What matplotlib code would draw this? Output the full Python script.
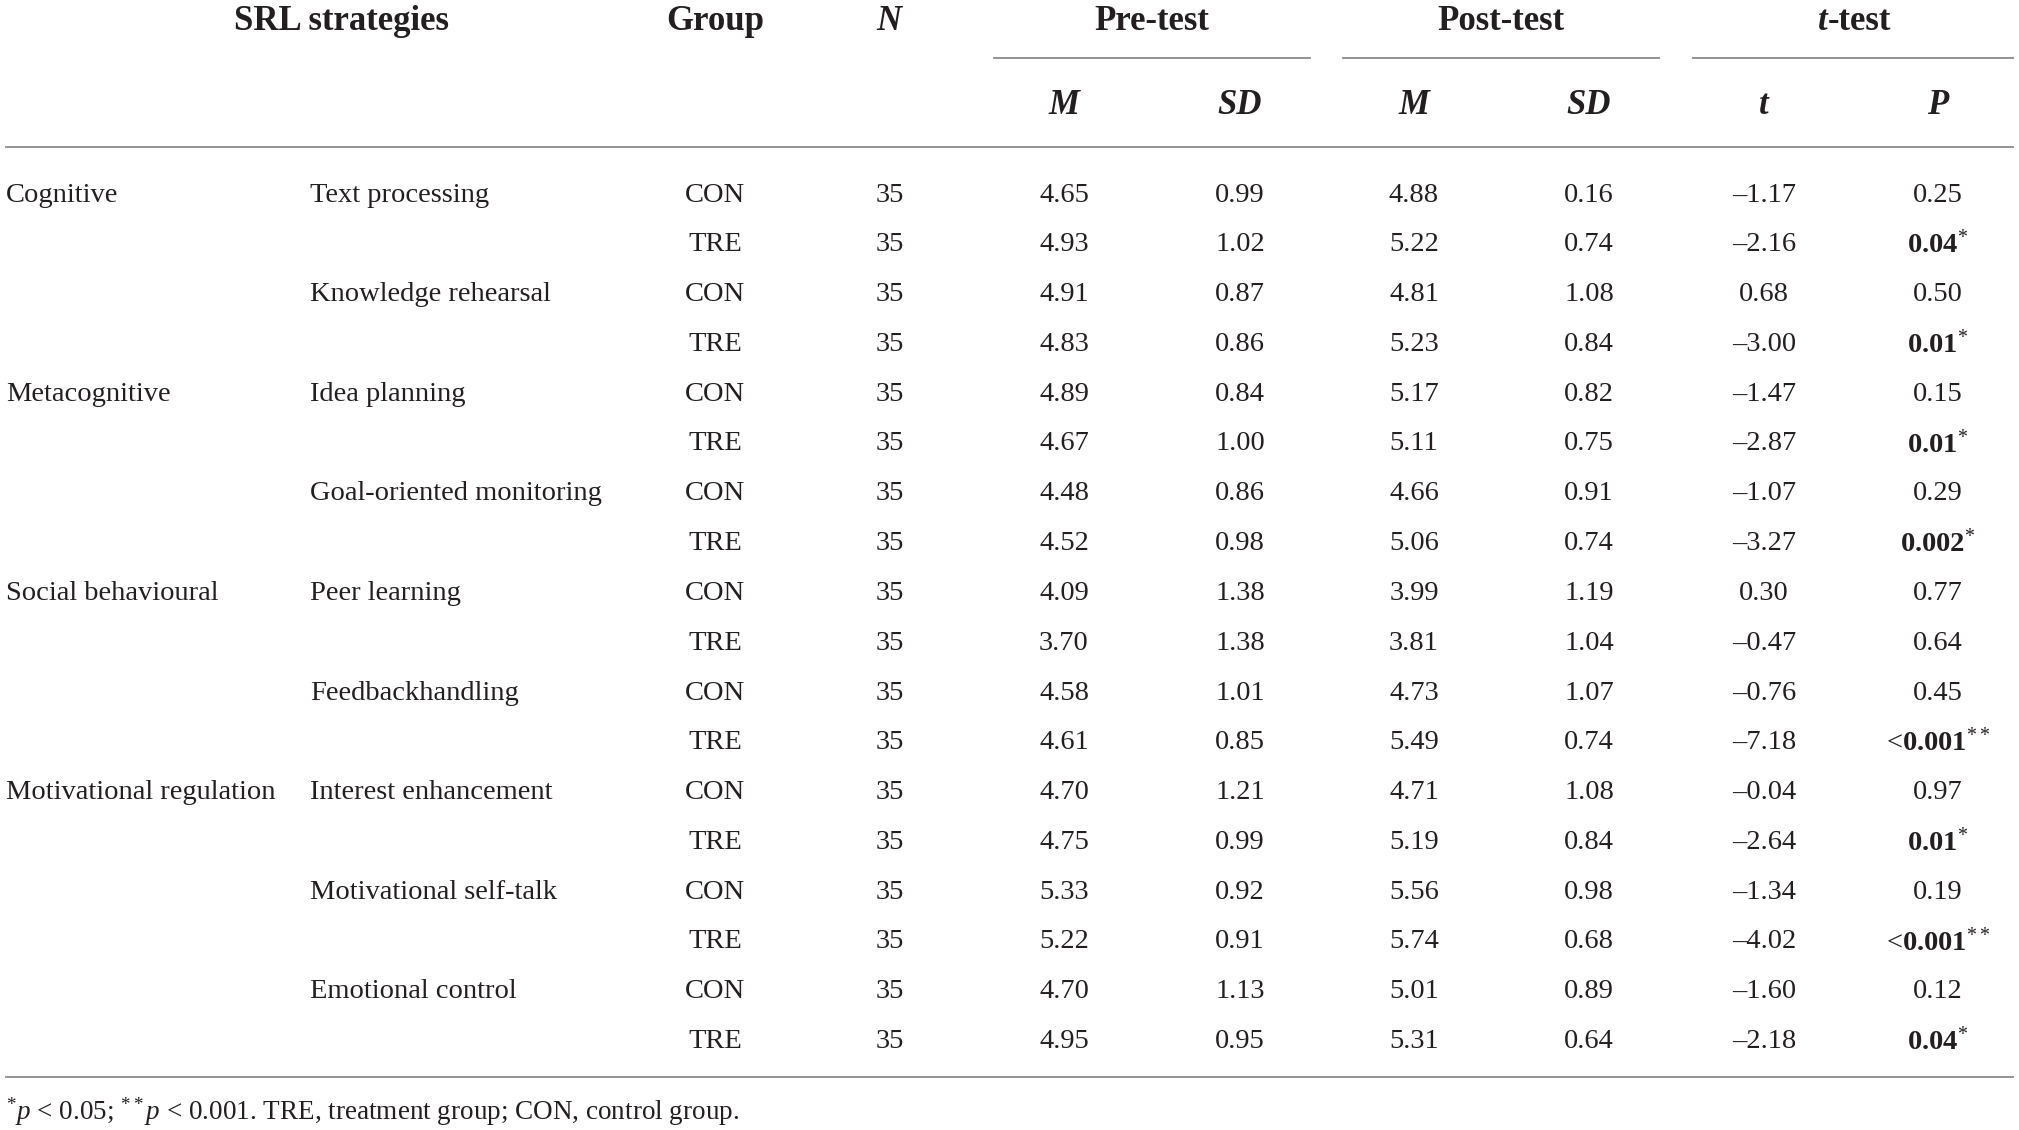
import matplotlib.pyplot as plt
from matplotlib.lines import Line2D

plt.rcParams['font.family'] = ['Liberation Serif', 'DejaVu Serif']
plt.rcParams['mathtext.fontset'] = 'custom'
plt.rcParams['mathtext.rm'] = 'Liberation Serif'
plt.rcParams['mathtext.it'] = 'Liberation Serif:italic'
plt.rcParams['mathtext.bf'] = 'Liberation Serif:bold'

# table contents
categories = ['Cognitive', '', '', '', 'Metacognitive', '', '', '',
              'Social behavioural', '', '', '', 'Motivational regulation',
              '', '', '', '', '']
strategies = ['Text processing', '', 'Knowledge rehearsal', '',
              'Idea planning', '', 'Goal-oriented monitoring', '',
              'Peer learning', '', 'Feedbackhandling', '',
              'Interest enhancement', '', 'Motivational self-talk', '',
              'Emotional control', '']
groups = ['CON', 'TRE'] * 9
n_vals = [35] * 18
pre_m = [4.65, 4.93, 4.91, 4.83, 4.89, 4.67, 4.48, 4.52, 4.09, 3.70,
         4.58, 4.61, 4.70, 4.75, 5.33, 5.22, 4.70, 4.95]
pre_sd = [0.99, 1.02, 0.87, 0.86, 0.84, 1.00, 0.86, 0.98, 1.38, 1.38,
          1.01, 0.85, 1.21, 0.99, 0.92, 0.91, 1.13, 0.95]
post_m = [4.88, 5.22, 4.81, 5.23, 5.17, 5.11, 4.66, 5.06, 3.99, 3.81,
          4.73, 5.49, 4.71, 5.19, 5.56, 5.74, 5.01, 5.31]
post_sd = [0.16, 0.74, 1.08, 0.84, 0.82, 0.75, 0.91, 0.74, 1.19, 1.04,
           1.07, 0.74, 1.08, 0.84, 0.98, 0.68, 0.89, 0.64]
t_vals = [-1.17, -2.16, 0.68, -3.00, -1.47, -2.87, -1.07, -3.27, 0.30,
          -0.47, -0.76, -7.18, -0.04, -2.64, -1.34, -4.02, -1.60, -2.18]
p_labels = ['0.25', '0.04', '0.50', '0.01', '0.15', '0.01', '0.29', '0.002',
            '0.77', '0.64', '0.45', '0.001', '0.97', '0.01', '0.19', '0.001',
            '0.12', '0.04']
p_stars = ['', '*', '', '*', '', '*', '', '*', '', '', '', '**', '', '*',
           '', '**', '', '*']
footnote = r'$^{*}p$ < 0.05; $^{**}p$ < 0.001. TRE, treatment group; CON, control group.'

W, H = 2019, 1130
fig = plt.figure(figsize=(W / 100, H / 100), dpi=100)
ax = fig.add_axes([0, 0, 1, 1])
ax.set_xlim(0, W)
ax.set_ylim(H, 0)
ax.axis('off')

txt = '#231f20'
line_c = '#8a8a8a'
fs = 20.5
hfs = 25

# header
row1_y, row2_y = 22, 106
ax.text(341, row1_y, 'SRL strategies', ha='center', va='center', fontsize=hfs, fontweight='bold', color=txt)
ax.text(715, row1_y, 'Group', ha='center', va='center', fontsize=hfs, fontweight='bold', color=txt)
ax.text(889, row1_y, 'N', ha='center', va='center', fontsize=hfs, fontweight='bold', style='italic', color=txt)
ax.text(1152, row1_y, 'Pre-test', ha='center', va='center', fontsize=hfs, fontweight='bold', color=txt)
ax.text(1501, row1_y, 'Post-test', ha='center', va='center', fontsize=hfs, fontweight='bold', color=txt)
tt = ax.text(1828, row1_y, '-test', ha='left', va='center', fontsize=hfs, fontweight='bold', color=txt)
ax.annotate('t', xy=(0, 0), xycoords=tt, ha='right', va='bottom', fontsize=hfs,
            fontweight='bold', style='italic', color=txt)

col_x = [1064, 1240, 1414, 1589, 1764, 1938]
for x, lab in zip(col_x, ['M', 'SD', 'M', 'SD', 't', 'P']):
    ax.text(x, row2_y, lab, ha='center', va='center', fontsize=hfs,
            fontweight='bold', style='italic', color=txt)

for x0, x1 in [(994, 1310), (1343, 1659), (1693, 2013)]:
    ax.add_line(Line2D([x0, x1], [58, 58], color=line_c, lw=1.3))
ax.add_line(Line2D([6, 2013], [147, 147], color=line_c, lw=1.3))

# body
y0, dy = 195, 49.8
for i in range(len(groups)):
    y = y0 + i * dy
    kw = dict(va='center', fontsize=fs, color=txt)
    ax.text(6, y, categories[i], ha='left', **kw)
    ax.text(310, y, strategies[i], ha='left', **kw)
    ax.text(715, y, groups[i], ha='center', **kw)
    ax.text(890, y, str(n_vals[i]), ha='center', **kw)
    ax.text(col_x[0], y, f'{pre_m[i]:.2f}', ha='center', **kw)
    ax.text(col_x[1], y, f'{pre_sd[i]:.2f}', ha='center', **kw)
    ax.text(col_x[2], y, f'{post_m[i]:.2f}', ha='center', **kw)
    ax.text(col_x[3], y, f'{post_sd[i]:.2f}', ha='center', **kw)
    ax.text(col_x[4], y, f'{t_vals[i]:.2f}'.replace('-', '\u2013'), ha='center', **kw)
    if p_stars[i] == '':
        ax.text(col_x[5], y, p_labels[i], ha='center', **kw)
    else:
        pre = '<' if p_stars[i] == '**' else ''
        s = pre + r'$\mathbf{' + p_labels[i] + r'}^{' + p_stars[i] + '}$'
        ax.text(col_x[5], y, s, ha='center', **kw)

ax.add_line(Line2D([6, 2013], [1077, 1077], color=line_c, lw=1.3))
ax.text(6, 1112, footnote, ha='left', va='center', fontsize=19.5, color=txt)

fig.savefig('out.png', dpi=100, facecolor='white')
